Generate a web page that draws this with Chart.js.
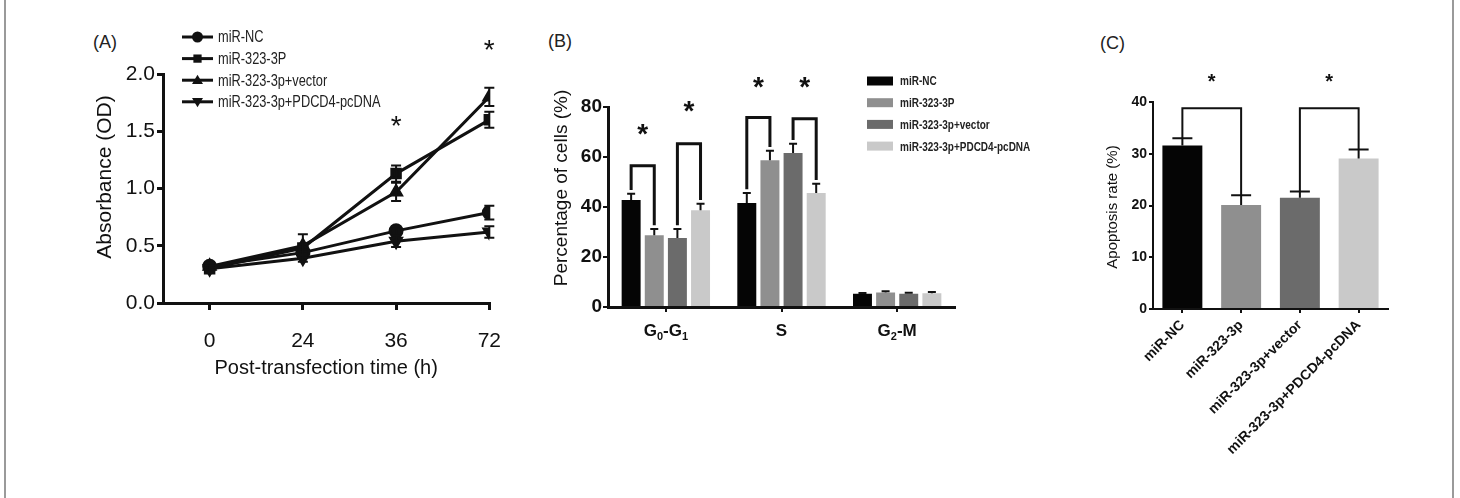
<!DOCTYPE html>
<html>
<head>
<meta charset="utf-8">
<script src="https://cdn.jsdelivr.net/npm/chart.js@4.4.1/dist/chart.umd.min.js"></script>
<style>
  body { margin: 0; background: #fff; width: 1460px; height: 498px; position: relative; overflow: hidden; font-family: "Liberation Sans", Arial, sans-serif; }
  .frame { position: absolute; left: 4px; top: -4px; width: 1446px; height: 506px; border-left: 2px solid #9a9a9a; border-right: 2px solid #9a9a9a; }
  .tag { position: absolute; font-size: 18px; line-height: 18px; color: #222; }
  canvas { position: absolute; top: 0; }
  #chartA { left: 60px; }
  #chartB { left: 540px; }
  #chartC { left: 1090px; }
</style>
</head>
<body>
<div class="frame"></div>
<div class="tag" style="left:93px;top:33px">(A)</div>
<div class="tag" style="left:548px;top:32px">(B)</div>
<div class="tag" style="left:1100px;top:34px">(C)</div>
<canvas id="chartA" width="460" height="400"></canvas>
<canvas id="chartB" width="500" height="400"></canvas>
<canvas id="chartC" width="320" height="498"></canvas>
<script>
// ---------- Panel A data: absorbance over time ----------
const timeLabels = ["0", "24", "36", "72"];
const groupsA = ["miR-NC", "miR-323-3P", "miR-323-3p+vector", "miR-323-3p+PDCD4-pcDNA"];
const odNC = [0.32, 0.44, 0.63, 0.79];
const odMiR = [0.30, 0.48, 1.13, 1.60];
const odVector = [0.32, 0.50, 0.97, 1.80];
const odPDCD4 = [0.30, 0.39, 0.54, 0.62];
const odNCErr = [0.03, 0.03, 0.04, 0.06];
const odMiRErr = [0.03, 0.03, 0.07, 0.07];
const odVectorErr = [0.03, 0.10, 0.08, 0.08];
const odPDCD4Err = [0.03, 0.03, 0.05, 0.05];
const starsA = [null, null, 1.58, 2.24];

// ---------- Panel B data: cell cycle ----------
// each phase label as [main, subscript, main, subscript]
const phaseLabels = [["G", "0", "-G", "1"], ["S", "", "", ""], ["G", "2", "-M", ""]];
const groupsB = ["miR-NC", "miR-323-3P", "miR-323-3p+vector", "miR-323-3p+PDCD4-pcDNA"];
const cellNC = [42.8, 41.6, 5.3];
const cellMiR = [28.7, 58.7, 5.8];
const cellVector = [27.6, 61.6, 5.3];
const cellPDCD4 = [38.7, 45.6, 5.5];
const cellNCErr = [2.5, 4.0, 0.3];
const cellMiRErr = [2.5, 3.8, 0.5];
const cellVectorErr = [3.6, 3.7, 0.4];
const cellPDCD4Err = [2.6, 3.7, 0.5];
// [phase, left group, right group, bracket height, star height]
const bracketsB = [[0, 0, 1, 56.5, 70.5], [0, 2, 3, 65.3, 80], [1, 0, 1, 75.8, 89.5], [1, 2, 3, 75.3, 89.5]];

// ---------- Panel C data: apoptosis ----------
const groupsC = ["miR-NC", "miR-323-3p", "miR-323-3p+vector", "miR-323-3p+PDCD4-pcDNA"];
const apoptosis = [31.6, 20.1, 21.5, 29.1];
const apoptosisErr = [1.4, 1.9, 1.2, 1.7];
// [left bar, right bar, bracket height, star height]
const bracketsC = [[0, 1, 38.8, 44.5], [2, 3, 38.8, 44.5]];

const greys = ["#050505", "#8f8f8f", "#6b6b6b", "#c9c9c9"];
const ink = "#111";
const FONT = "'Liberation Sans', Arial, sans-serif";

function star(ctx, x, y, size, weight) {
  ctx.font = `${weight} ${size}px ${FONT}`;
  ctx.textAlign = "center";
  ctx.textBaseline = "alphabetic";
  ctx.fillStyle = ink;
  ctx.fillText("*", x, y + size * 0.45);
}

function sideTitle(ctx, text, x, y, font) {
  ctx.save();
  ctx.translate(x, y);
  ctx.rotate(-Math.PI / 2);
  ctx.font = font;
  ctx.fillStyle = ink;
  ctx.textAlign = "center";
  ctx.textBaseline = "middle";
  ctx.fillText(text, 0, 0);
  ctx.restore();
}

function marker(ctx, style, x, y, r) {
  ctx.beginPath();
  if (style === "circle") ctx.arc(x, y, r, 0, Math.PI * 2);
  else if (style === "rect") ctx.rect(x - r * 0.75, y - r * 0.75, r * 1.5, r * 1.5);
  else if (style === "up") { ctx.moveTo(x, y - r); ctx.lineTo(x + r, y + r * 0.7); ctx.lineTo(x - r, y + r * 0.7); }
  else { ctx.moveTo(x, y + r); ctx.lineTo(x + r, y - r * 0.7); ctx.lineTo(x - r, y - r * 0.7); }
  ctx.closePath();
  ctx.fill();
}

// ---------- Chart A ----------
const seriesA = [odNC, odMiR, odVector, odPDCD4];
const errA = [odNCErr, odMiRErr, odVectorErr, odPDCD4Err];
const stylesA = ["circle", "rect", "triangle", "triangle"];
const legendStylesA = ["circle", "rect", "up", "down"];

const plotA = {
  id: "plotA",
  afterDatasetsDraw(chart) {
    const { ctx, scales: { x, y } } = chart;
    ctx.save();
    ctx.strokeStyle = ink;
    ctx.lineWidth = 2;
    seriesA.forEach((s, i) => {
      s.forEach((v, j) => {
        const px = x.getPixelForValue(j);
        const top = y.getPixelForValue(v + errA[i][j]);
        const bot = y.getPixelForValue(v - errA[i][j]);
        ctx.beginPath();
        ctx.moveTo(px, top); ctx.lineTo(px, bot);
        ctx.moveTo(px - 5, top); ctx.lineTo(px + 5, top);
        ctx.moveTo(px - 5, bot); ctx.lineTo(px + 5, bot);
        ctx.stroke();
      });
    });
    starsA.forEach((v, j) => {
      if (v !== null) star(ctx, x.getPixelForValue(j), y.getPixelForValue(v), 28, "normal");
    });
    // legend
    ctx.fillStyle = ink;
    ctx.strokeStyle = ink;
    ctx.lineWidth = 3;
    groupsA.forEach((name, i) => {
      const ry = 37 + i * 21.6;
      ctx.beginPath(); ctx.moveTo(122, ry); ctx.lineTo(153, ry); ctx.stroke();
      marker(ctx, legendStylesA[i], 137.5, ry, 5.5);
      ctx.save();
      ctx.translate(158, ry);
      ctx.scale(0.8, 1);
      ctx.font = `16px ${FONT}`;
      ctx.fillStyle = "#222";
      ctx.textAlign = "left";
      ctx.textBaseline = "middle";
      ctx.fillText(name, 0, 1);
      ctx.restore();
    });
    sideTitle(ctx, "Absorbance (OD)", 45, 177, `21px ${FONT}`);
    ctx.restore();
  }
};

new Chart(document.getElementById("chartA"), {
  type: "line",
  data: {
    datasets: seriesA.map((s, i) => ({
      label: groupsA[i],
      data: s.map((v, j) => ({ x: j, y: v })),
      borderColor: ink,
      backgroundColor: ink,
      borderWidth: 3,
      pointStyle: stylesA[i],
      rotation: i === 3 ? 180 : 0,
      pointRadius: 6,
      tension: 0
    }))
  },
  options: {
    responsive: false,
    animation: false,
    events: [],
    layout: { padding: { top: 74, right: 30, left: 0, bottom: 0 } },
    plugins: { legend: { display: false }, tooltip: { enabled: false } },
    scales: {
      x: {
        type: "linear",
        min: -0.5,
        max: 3,
        afterBuildTicks: axis => { axis.ticks = timeLabels.map((_, i) => ({ value: i })); },
        afterFit: axis => { axis.height = 97; },
        ticks: { callback: v => timeLabels[v], color: ink, font: { size: 21, family: FONT }, padding: 19 },
        grid: { drawOnChartArea: false, tickLength: 7, color: ink, lineWidth: 3 },
        border: { color: ink, width: 3 },
        title: { display: true, text: "Post-transfection time (h)", color: ink, font: { size: 20, family: FONT }, padding: { top: 0, bottom: 20 } }
      },
      y: {
        min: 0,
        max: 2,
        ticks: { stepSize: 0.5, callback: v => v.toFixed(1), color: ink, font: { size: 21, family: FONT }, padding: 2 },
        afterFit: axis => { axis.width = 103; },
        grid: { drawOnChartArea: false, tickLength: 6, color: ink, lineWidth: 3 },
        border: { color: ink, width: 3 }
      }
    }
  },
  plugins: [plotA]
});

// ---------- Chart B ----------
const seriesB = [cellNC, cellMiR, cellVector, cellPDCD4];
const errB = [cellNCErr, cellMiRErr, cellVectorErr, cellPDCD4Err];

function phaseLabel(ctx, parts, cx, cy) {
  const big = `bold 17px ${FONT}`, small = `bold 11px ${FONT}`;
  const widths = parts.map((p, k) => { ctx.font = k % 2 ? small : big; return ctx.measureText(p).width; });
  let x = cx - widths.reduce((a, b) => a + b, 0) / 2;
  ctx.textAlign = "left";
  ctx.textBaseline = "alphabetic";
  ctx.fillStyle = ink;
  parts.forEach((p, k) => {
    ctx.font = k % 2 ? small : big;
    ctx.fillText(p, x, cy + 6 + (k % 2 ? 4 : 0));
    x += widths[k];
  });
}

const plotB = {
  id: "plotB",
  afterDatasetsDraw(chart) {
    const { ctx, scales: { x, y } } = chart;
    ctx.save();
    ctx.strokeStyle = ink;
    ctx.lineWidth = 2;
    seriesB.forEach((s, i) => {
      const meta = chart.getDatasetMeta(i);
      s.forEach((v, j) => {
        const px = meta.data[j].x;
        const top = y.getPixelForValue(v + errB[i][j]);
        ctx.beginPath();
        ctx.moveTo(px, y.getPixelForValue(v)); ctx.lineTo(px, top);
        ctx.moveTo(px - 4, top); ctx.lineTo(px + 4, top);
        ctx.stroke();
      });
    });
    ctx.lineWidth = 3;
    bracketsB.forEach(([p, a, b, h, sh]) => {
      const xa = chart.getDatasetMeta(a).data[p].x;
      const xb = chart.getDatasetMeta(b).data[p].x;
      const ya = y.getPixelForValue(seriesB[a][p] + errB[a][p] + 1.5);
      const yb = y.getPixelForValue(seriesB[b][p] + errB[b][p] + 1.5);
      const yt = y.getPixelForValue(h);
      ctx.beginPath();
      ctx.moveTo(xa, ya); ctx.lineTo(xa, yt); ctx.lineTo(xb, yt); ctx.lineTo(xb, yb);
      ctx.stroke();
      star(ctx, (xa + xb) / 2, y.getPixelForValue(sh), 28, "bold");
    });
    phaseLabels.forEach((parts, j) => phaseLabel(ctx, parts, x.getPixelForTick(j), 330));
    // legend
    groupsB.forEach((name, i) => {
      const ry = 81 + i * 21.7;
      ctx.fillStyle = greys[i];
      ctx.fillRect(327, ry - 4.5, 26, 9);
      ctx.save();
      ctx.translate(360, ry);
      ctx.scale(0.8, 1);
      ctx.font = `bold 12.5px ${FONT}`;
      ctx.fillStyle = "#222";
      ctx.textAlign = "left";
      ctx.textBaseline = "middle";
      ctx.fillText(name, 0, 1);
      ctx.restore();
    });
    sideTitle(ctx, "Percentage of cells (%)", 22, 188, `19px ${FONT}`);
    ctx.restore();
  }
};

new Chart(document.getElementById("chartB"), {
  type: "bar",
  data: {
    labels: phaseLabels.map(p => p.join("")),
    datasets: seriesB.map((s, i) => ({
      label: groupsB[i],
      data: s,
      backgroundColor: greys[i],
      categoryPercentage: 0.8,
      barPercentage: 0.82
    }))
  },
  options: {
    responsive: false,
    animation: false,
    events: [],
    layout: { padding: { top: 107, right: 85, left: 0, bottom: 0 } },
    plugins: { legend: { display: false }, tooltip: { enabled: false } },
    scales: {
      x: {
        afterFit: axis => { axis.height = 93; },
        ticks: { callback: () => "", font: { size: 17, weight: "bold", family: FONT } },
        grid: { drawOnChartArea: false, offset: false, tickLength: 5, color: ink, lineWidth: 2 },
        border: { color: ink, width: 3 }
      },
      y: {
        min: 0,
        max: 80,
        ticks: { stepSize: 20, color: ink, font: { size: 19, weight: "bold", family: FONT }, padding: 1 },
        afterFit: axis => { axis.width = 68; },
        grid: { drawOnChartArea: false, tickLength: 5, color: ink, lineWidth: 2 },
        border: { color: ink, width: 3 }
      }
    }
  },
  plugins: [plotB]
});

// ---------- Chart C ----------
const plotC = {
  id: "plotC",
  afterDatasetsDraw(chart) {
    const { ctx, scales: { y } } = chart;
    const meta = chart.getDatasetMeta(0);
    ctx.save();
    ctx.strokeStyle = ink;
    ctx.lineWidth = 2;
    apoptosis.forEach((v, j) => {
      const px = meta.data[j].x;
      const top = y.getPixelForValue(v + apoptosisErr[j]);
      ctx.beginPath();
      ctx.moveTo(px, y.getPixelForValue(v)); ctx.lineTo(px, top);
      ctx.moveTo(px - 10, top); ctx.lineTo(px + 10, top);
      ctx.stroke();
    });
    bracketsC.forEach(([a, b, h, sh]) => {
      const xa = meta.data[a].x, xb = meta.data[b].x;
      const ya = y.getPixelForValue(apoptosis[a] + apoptosisErr[a]);
      const yb = y.getPixelForValue(apoptosis[b] + apoptosisErr[b]);
      const yt = y.getPixelForValue(h);
      ctx.beginPath();
      ctx.moveTo(xa, ya); ctx.lineTo(xa, yt); ctx.lineTo(xb, yt); ctx.lineTo(xb, yb);
      ctx.stroke();
      star(ctx, (xa + xb) / 2, y.getPixelForValue(sh), 20, "bold");
    });
    sideTitle(ctx, "Apoptosis rate (%)", 23, 207, `15px ${FONT}`);
    ctx.restore();
  }
};

new Chart(document.getElementById("chartC"), {
  type: "bar",
  data: {
    labels: groupsC,
    datasets: [{ data: apoptosis, backgroundColor: greys, categoryPercentage: 1, barPercentage: 0.68 }]
  },
  options: {
    responsive: false,
    animation: false,
    events: [],
    layout: { padding: { top: 102, right: 22, left: 0, bottom: 0 } },
    plugins: { legend: { display: false }, tooltip: { enabled: false } },
    scales: {
      x: {
        afterFit: axis => { axis.height = 189; },
        ticks: { color: ink, font: { size: 14, weight: "bold", family: FONT }, minRotation: 45, maxRotation: 45, autoSkip: false, padding: 4 },
        grid: { drawOnChartArea: false, offset: false, tickLength: 4, color: ink, lineWidth: 2 },
        border: { color: ink, width: 2 }
      },
      y: {
        min: 0,
        max: 40,
        ticks: { stepSize: 10, color: ink, font: { size: 14, weight: "bold", family: FONT }, padding: 2 },
        afterFit: axis => { axis.width = 63; },
        grid: { drawOnChartArea: false, tickLength: 4, color: ink, lineWidth: 2 },
        border: { color: ink, width: 2 }
      }
    }
  },
  plugins: [plotC]
});
</script>
</body>
</html>
